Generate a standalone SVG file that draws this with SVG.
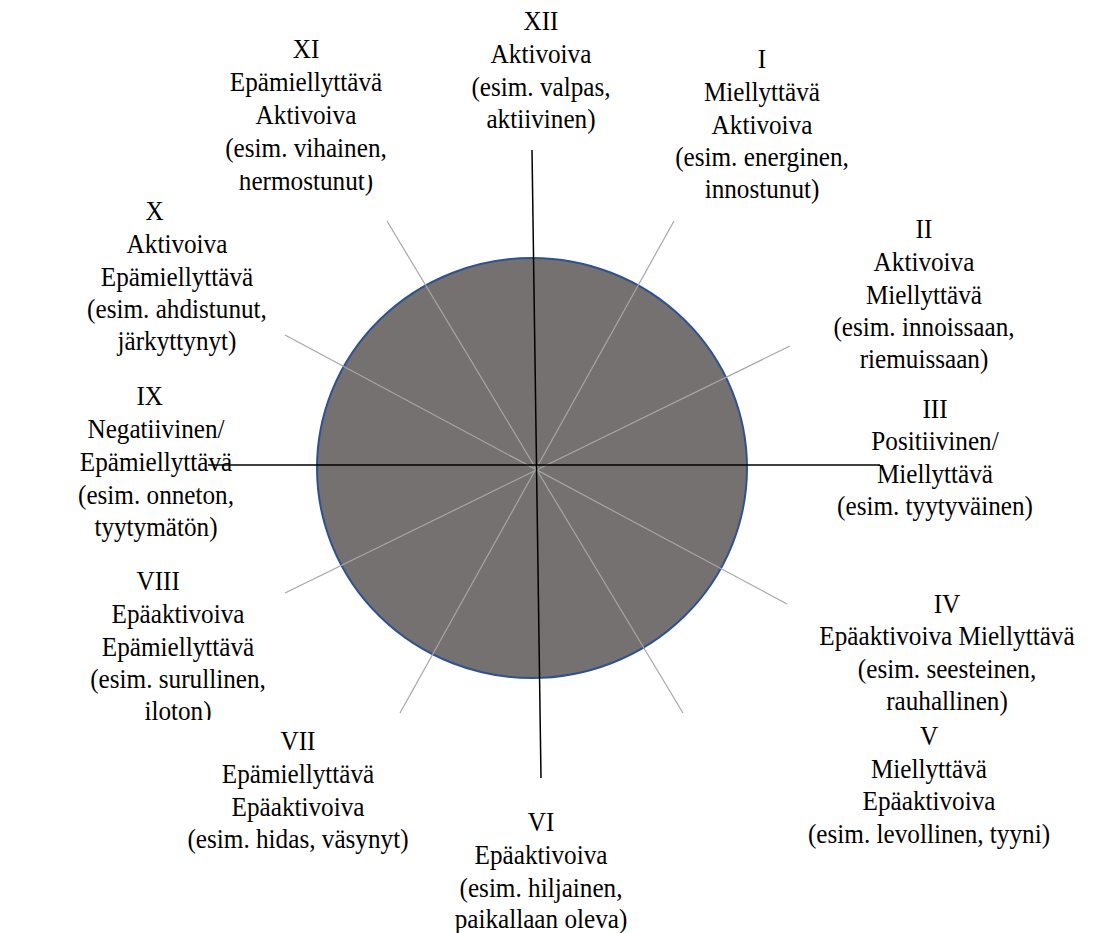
<svg xmlns="http://www.w3.org/2000/svg" width="1097" height="933" viewBox="0 0 1097 933">
<style>
text{font-family:'Liberation Serif','Times New Roman','DejaVu Serif',serif;font-size:28px;fill:#000;text-anchor:middle}
.ax{stroke:#000;stroke-width:1.5;fill:none}
.sp{stroke:#a6a6a6;stroke-width:1.2;fill:none}
</style>
<defs>
<clipPath id="clipXI"><rect x="-150" y="175" width="300" height="40"/></clipPath>
<clipPath id="clipVIII"><rect x="-150" y="695" width="300" height="25"/></clipPath>
</defs>
<rect width="1097" height="933" fill="#fff"/>
<g id="circle">
<ellipse cx="532" cy="468" rx="215" ry="210" fill="#767171" stroke="#2f528f" stroke-width="2"/>
</g>
<g id="connectors">
<line class="sp" x1="387" y1="221" x2="683" y2="713"/>
<line class="sp" x1="674" y1="221" x2="400" y2="713"/>
<line class="sp" x1="285" y1="335" x2="787" y2="604"/>
<line class="sp" x1="790" y1="346" x2="285" y2="593"/>
<line class="ax" x1="532" y1="150" x2="541" y2="778"/>
<line class="ax" x1="208" y1="465" x2="880" y2="465"/>
</g>
<g id="n12" transform="translate(541,0) scale(0.9,1)"><text><tspan x="0" y="30">XII</tspan><tspan x="0" y="63">Aktivoiva</tspan><tspan x="0" y="96">(esim. valpas,</tspan><tspan x="0" y="128">aktiivinen)</tspan></text></g>
<g id="n11" transform="translate(306,0) scale(0.9,1)"><text><tspan x="0" y="58">XI</tspan><tspan x="0" y="91">Epämiellyttävä</tspan><tspan x="0" y="124">Aktivoiva</tspan><tspan x="0" y="157">(esim. vihainen,</tspan></text><text clip-path="url(#clipXI)" x="0" y="190">hermostunut)</text></g>
<g id="n1" transform="translate(762,0) scale(0.9,1)"><text><tspan x="0" y="68">I</tspan><tspan x="0" y="101">Miellyttävä</tspan><tspan x="0" y="134">Aktivoiva</tspan><tspan x="0" y="166">(esim. energinen,</tspan><tspan x="0" y="198">innostunut)</tspan></text></g>
<g id="n10" transform="translate(177,0) scale(0.9,1)"><text><tspan x="-25" y="220">X</tspan><tspan x="0" y="253">Aktivoiva</tspan><tspan x="0" y="286">Epämiellyttävä</tspan><tspan x="0" y="318">(esim. ahdistunut,</tspan><tspan x="0" y="350">järkyttynyt)</tspan></text></g>
<g id="n2" transform="translate(924,0) scale(0.9,1)"><text><tspan x="0" y="238">II</tspan><tspan x="0" y="271">Aktivoiva</tspan><tspan x="0" y="304">Miellyttävä</tspan><tspan x="0" y="336">(esim. innoissaan,</tspan><tspan x="0" y="368">riemuissaan)</tspan></text></g>
<g id="n9" transform="translate(156,0) scale(0.9,1)"><text><tspan x="-7" y="405">IX</tspan><tspan x="0" y="438">Negatiivinen/</tspan><tspan x="0" y="471">Epämiellyttävä</tspan><tspan x="0" y="504">(esim. onneton,</tspan><tspan x="0" y="536">tyytymätön)</tspan></text></g>
<g id="n3" transform="translate(935,0) scale(0.9,1)"><text><tspan x="0" y="418">III</tspan><tspan x="0" y="450">Positiivinen/</tspan><tspan x="0" y="483">Miellyttävä</tspan><tspan x="0" y="515">(esim. tyytyväinen)</tspan></text></g>
<g id="n8" transform="translate(178,0) scale(0.9,1)"><text><tspan x="-22" y="590">VIII</tspan><tspan x="0" y="623">Epäaktivoiva</tspan><tspan x="0" y="656">Epämiellyttävä</tspan><tspan x="0" y="688">(esim. surullinen,</tspan></text><text clip-path="url(#clipVIII)" x="0" y="720">iloton)</text></g>
<g id="n4" transform="translate(947,0) scale(0.9,1)"><text><tspan x="0" y="613">IV</tspan><tspan x="0" y="645">Epäaktivoiva Miellyttävä</tspan><tspan x="0" y="678">(esim. seesteinen,</tspan><tspan x="0" y="710">rauhallinen)</tspan></text></g>
<g id="n7" transform="translate(298,0) scale(0.9,1)"><text><tspan x="0" y="750">VII</tspan><tspan x="0" y="783">Epämiellyttävä</tspan><tspan x="0" y="816">Epäaktivoiva</tspan><tspan x="0" y="848">(esim. hidas, väsynyt)</tspan></text></g>
<g id="n5" transform="translate(929,0) scale(0.9,1)"><text><tspan x="0" y="745">V</tspan><tspan x="0" y="778">Miellyttävä</tspan><tspan x="0" y="810">Epäaktivoiva</tspan><tspan x="0" y="843">(esim. levollinen, tyyni)</tspan></text></g>
<g id="n6" transform="translate(541,0) scale(0.9,1)"><text><tspan x="0" y="831">VI</tspan><tspan x="0" y="864">Epäaktivoiva</tspan><tspan x="0" y="897">(esim. hiljainen,</tspan><tspan x="0" y="928">paikallaan oleva)</tspan></text></g>
</svg>
